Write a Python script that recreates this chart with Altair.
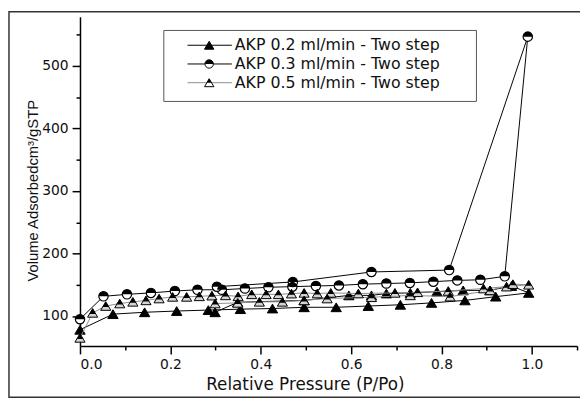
import altair as alt
import pandas as pd

names = ["AKP 0.2 ml/min - Two step", "AKP 0.3 ml/min - Two step", "AKP 0.5 ml/min - Two step"]

p02 = [0.000, 0.073, 0.143, 0.214, 0.284, 0.355, 0.426, 0.496, 0.567, 0.638, 0.709, 0.778,
       0.852, 0.920, 0.993, 0.955, 0.907, 0.848, 0.790, 0.731, 0.678, 0.645, 0.595, 0.496,
       0.349, 0.299]
v02 = [78, 103, 106, 108, 109.5, 111, 112, 114, 114, 116, 118, 121,
       125, 131, 137, 148, 141, 141, 139, 137, 136, 133, 133, 125,
       122, 106]

p03 = [0.000, 0.052, 0.104, 0.157, 0.210, 0.260, 0.314, 0.365, 0.417, 0.470, 0.522, 0.573,
       0.626, 0.678, 0.730, 0.782, 0.835, 0.886, 0.940, 0.991, 0.817, 0.645, 0.471, 0.303]
v03 = [95, 131.5, 134.7, 137, 140, 142, 142, 144, 146, 147, 148, 149,
       151, 152, 153, 155, 157, 158, 163.5, 547, 173.5, 170.5, 154.5, 147]

p05 = [0.000, 0.028, 0.057, 0.088, 0.117, 0.146, 0.175, 0.205, 0.236, 0.264, 0.292, 0.322,
       0.350, 0.380, 0.412, 0.439, 0.468, 0.496, 0.525, 0.555, 0.616, 0.697, 0.747,
       0.815, 0.893, 0.944, 0.993,
       0.958, 0.908, 0.819, 0.731, 0.645, 0.547, 0.496, 0.448, 0.397, 0.349, 0.299]
v05 = [65, 105, 116, 120, 122.7, 125, 128, 130.6, 130.6, 131.5, 132.6, 133,
       131.5, 134.7, 134.7, 134.7, 135.8, 137, 136, 137, 136, 137, 138,
       140, 144, 147, 150,
       151, 141, 131, 133, 130, 128, 125, 122.7, 122.7, 121, 120]

x_ticks = [round(0.1 * k, 1) for k in range(12)]
y_ticks = [100, 150, 200, 250, 300, 350, 400, 450, 500, 550]

W, H = 504, 334
TRI = "M0,-0.85L1,0.85L-1,0.85Z"
TRI_TOP = "M0,-0.85L0.62,0.2L-0.62,0.2Z"
CIRC_TOP = "M-1,0A1,1,0,0,1,1,0Z"

xscale = alt.Scale(domain=[0, 1.1], nice=False, zero=False)
yscale = alt.Scale(domain=[52, 579], nice=False, zero=False)

xaxis = alt.Axis(
    values=x_ticks,
    labelExpr="round(datum.value*10) % 2 == 0 ? format(datum.value, '.1f') : ''",
    tickSize={"condition": {"test": "round(datum.value*10) % 2 == 0", "value": 8}, "value": 4},
    title="Relative Pressure (P/Po)",
    titleX=228, titleY=44, titleBaseline="alphabetic", titleAnchor="middle", titleAlign="center",
)
yaxis = alt.Axis(
    values=y_ticks,
    labelExpr="datum.value % 100 == 0 ? datum.label : ''",
    tickSize={"condition": {"test": "datum.value % 100 == 0", "value": 8}, "value": 4},
    title="Volume Adsorbedcm³/gSTP",
    titleX=-43, titleY=176, titleBaseline="alphabetic", titleAngle=-90, titleAlign="center",
    titleFont="Liberation Sans", titleFontSize=15,
)

X = alt.X("p:Q", scale=xscale, axis=xaxis)
Y = alt.Y("v:Q", scale=yscale, axis=yaxis)


def frame(p, v):
    return pd.DataFrame({"p": p, "v": v, "i": list(range(len(p)))})


def series(df, line_color, kind):
    base = alt.Chart(df)
    line = base.mark_line(color=line_color, strokeWidth=1).encode(x=X, y=Y, order="i:Q")
    layers = [line]
    if kind == "filled":
        layers.append(base.mark_point(shape=TRI, size=110, filled=True, fill="black",
                                      stroke="black", strokeWidth=1, opacity=1).encode(x=X, y=Y))
    elif kind == "halftri":
        layers.append(base.mark_point(shape=TRI, size=105, filled=True, fill="#d4d4d4",
                                      stroke="black", strokeWidth=1, opacity=1).encode(x=X, y=Y))
        layers.append(base.mark_point(shape=TRI_TOP, size=105, filled=True, fill="black",
                                      strokeWidth=0, opacity=1).encode(x=X, y=Y))
    else:
        layers.append(base.mark_point(shape="circle", size=90, filled=True, fill="white",
                                      stroke="black", strokeWidth=1.2, opacity=1).encode(x=X, y=Y))
        layers.append(base.mark_point(shape=CIRC_TOP, size=90, filled=True, fill="black",
                                      strokeWidth=0, opacity=1).encode(x=X, y=Y))
    return layers


layers = []
layers += series(frame(p02, v02), "black", "filled")
layers += series(frame(p03, v03), "black", "halfcirc")
layers += series(frame(p05, v05), "#8c8c8c", "halftri")

# ---- legend box (layout positions in plot-area pixels) ----
one = pd.DataFrame({"k": [0]})
layers.append(alt.Chart(one).mark_rect(fill="white", stroke="#555555", strokeWidth=1).encode(
    x=alt.value(85), x2=alt.value(402), y=alt.value(14), y2=alt.value(86)))

leg_kinds = ["filled", "halfcirc", "halftri"]
leg_colors = ["black", "black", "#8c8c8c"]
LEG_TRI_TOP = "M0,-0.85L0.5,0L-0.5,0Z"
for r, (nm, kd, col) in enumerate(zip(names, leg_kinds, leg_colors)):
    yy = 29 + r * 19
    d = pd.DataFrame({"name": [nm]})
    c = alt.Chart(d)
    layers.append(c.mark_rule(color=col, strokeWidth=1).encode(
        x=alt.value(109), x2=alt.value(154), y=alt.value(yy)))
    if kd == "filled":
        layers.append(c.mark_point(shape=TRI, size=90, filled=True, fill="black", stroke="black",
                                   strokeWidth=1, opacity=1).encode(x=alt.value(131), y=alt.value(yy)))
    elif kd == "halftri":
        layers.append(c.mark_point(shape=TRI, size=90, filled=True, fill="white", stroke="black",
                                   strokeWidth=1, opacity=1).encode(x=alt.value(131), y=alt.value(yy)))
        layers.append(c.mark_point(shape=LEG_TRI_TOP, size=90, filled=True, fill="black",
                                   strokeWidth=0, opacity=1).encode(x=alt.value(131), y=alt.value(yy)))
    else:
        layers.append(c.mark_point(shape="circle", size=72, filled=True, fill="white", stroke="black",
                                   strokeWidth=1, opacity=1).encode(x=alt.value(131), y=alt.value(yy)))
        layers.append(c.mark_point(shape=CIRC_TOP, size=72, filled=True, fill="black",
                                   strokeWidth=0, opacity=1).encode(x=alt.value(131), y=alt.value(yy)))
    layers.append(c.mark_text(align="left", baseline="middle", font="DejaVu Sans", fontSize=16,
                              color="#111111").encode(text="name:N", x=alt.value(157), y=alt.value(yy)))

# ---- outer figure frame ----
layers.append(alt.Chart(one).mark_rect(filled=False, fillOpacity=0, stroke="#333333", strokeWidth=1.5).encode(
    x=alt.value(-72), x2=alt.value(540), y=alt.value(-5), y2=alt.value(386)))

chart = alt.layer(*layers).properties(
    width=W, height=H,
    autosize=alt.AutoSizeParams(type="none"),
    padding={"left": 73, "top": 6, "right": 3, "bottom": 54},
).configure_view(stroke=None).configure_axis(
    domainColor="black", domainWidth=1.5, tickColor="black", tickWidth=1.5,
    labelFont="DejaVu Sans", labelFontSize=14, labelColor="#111111", labelPadding=4,
    titleFont="DejaVu Sans", titleFontSize=17, titleColor="#111111", titleFontWeight="normal",
    grid=False,
)

chart.save("out.html", embed_options={"renderer": "svg", "actions": False})
